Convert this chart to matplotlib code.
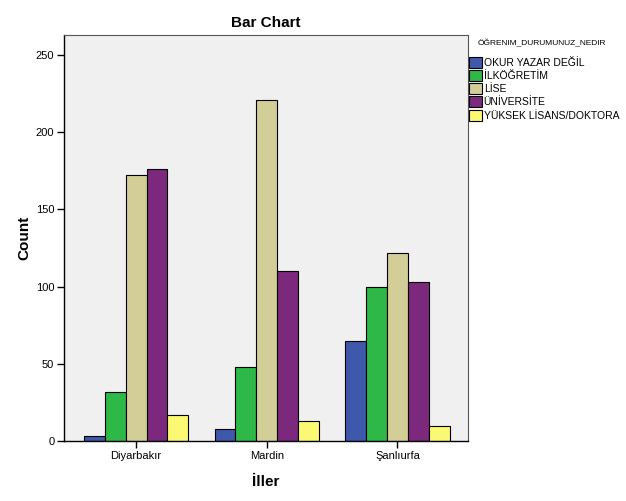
import matplotlib.pyplot as plt
import numpy as np

plt.rcParams['font.family'] = ['Liberation Sans', 'DejaVu Sans']

iller = ['Diyarbakır', 'Mardin', 'Şanlıurfa']
durum = ['OKUR YAZAR DEĞİL', 'İLKÖĞRETİM', 'LİSE', 'ÜNİVERSİTE', 'YÜKSEK LİSANS/DOKTORA']
renkler = ['#3E58AC', '#2EB848', '#D3CE97', '#7C287D', '#FBF873']

okur = [3, 8, 65]
ilkogretim = [32, 48, 100]
lise = [172, 221, 122]
universite = [176, 110, 103]
yuksek = [17, 13, 10]

seriler = [okur, ilkogretim, lise, universite, yuksek]

fig = plt.figure(figsize=(6.26, 5.01), dpi=100)
ax = fig.add_axes([64 / 626, 60 / 501, 404 / 626, 406 / 501])
ax.set_facecolor('#F0F0F0')

x = np.arange(len(iller))
w = 0.16
for i, (vals, lab, c) in enumerate(zip(seriler, durum, renkler)):
    ax.bar(x + (i - 2) * w, vals, w, color=c, edgecolor='black', linewidth=0.8, label=lab)

ax.set_xlim(-0.552, 2.54)
ax.set_ylim(0, 263)
ax.set_yticks([0, 50, 100, 150, 200, 250])
ax.set_xticks(x)
ax.set_xticklabels(iller)
ax.tick_params(axis='both', direction='out', length=5, width=1, labelsize=8, colors='black', pad=2)

for s in ['top', 'right']:
    ax.spines[s].set_color('#555555')
    ax.spines[s].set_linewidth(0.8)
for s in ['left', 'bottom']:
    ax.spines[s].set_color('black')
    ax.spines[s].set_linewidth(1)

ax.set_title('Bar Chart', fontsize=11, fontweight='bold', pad=6)
ax.set_ylabel('Count', fontsize=11, fontweight='bold', labelpad=3)
ax.set_xlabel('İller', fontsize=11, fontweight='bold', labelpad=10)

# legend title drawn separately, indented like SPSS
fig.text(478 / 626, 1 - 43 / 501, 'ÖĞRENIM_DURUMUNUZ_NEDIR', fontsize=6, va='center', ha='left')
fig.legend(loc='upper left', bbox_to_anchor=(466 / 626, 1 - 54 / 501),
           frameon=False, fontsize=7.5, handlelength=1.2, handleheight=1.25,
           handletextpad=0.2, labelspacing=0.2, borderaxespad=0, borderpad=0.3)

fig.savefig('out.png', dpi=100)
